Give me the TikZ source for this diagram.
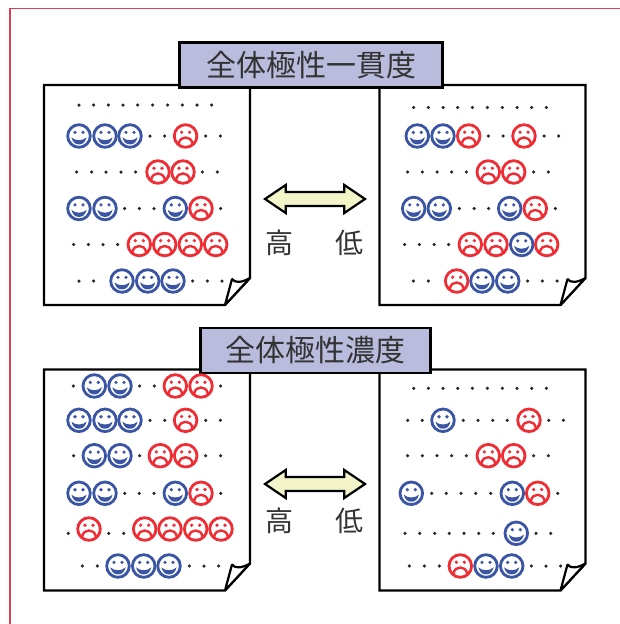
\documentclass[tikz,border=0pt]{standalone}
\usepackage{fontspec}
\setmainfont{Noto Sans CJK JP}
\usetikzlibrary{positioning}
\definecolor{happyblue}{HTML}{3B55A5}
\definecolor{sadred}{HTML}{EE2D34}
\definecolor{framered}{HTML}{D9405A}
\definecolor{titlefill}{HTML}{B9BCDD}
\definecolor{arrowfill}{HTML}{F3F5C8}
\definecolor{inktext}{HTML}{333333}
% one row of marks: prefix, y, list of x/kind
\newcommand{\markrow}[3]{%
  \foreach \mx/\mk [count=\mi] in {#3}
    \node[\mk] (#1-\mi) at (\mx,#2) {};
}
% a sheet with its curled corner: name, top, bottom, left
\newcommand{\sheet}[4]{%
  \draw[sheetline,fill=white] (#4,#2) -- ++(206,0) -- ++(0,#3-#2-27)
    -- ++(-25,27) -- (#4,#3) -- cycle;
  \draw[sheetline,fill=white,line join=bevel] (#4+181,#3) -- ++(7,-26)
    .. controls ++(3,4) and ++(-9,5) .. (#4+206,#3-27) -- cycle;
  \coordinate (#1) at (#4,#2);
}
% double arrow: name, centre x, centre y
\newcommand{\bothways}[3]{%
  \draw[arrowline] (#2-50,#3) -- ++(20.7,-14) -- ++(0,7) -- ++(58.6,0) -- ++(0,-7)
    -- ++(20.7,14) -- ++(-20.7,14) -- ++(0,-7) -- ++(-58.6,0) -- ++(0,7) -- cycle;
  \coordinate (#1) at (#2,#3);
}
\begin{document}
\begin{tikzpicture}[x=1pt,y=-1pt,
    % This is the style settings for the marks
    pt/.style={circle,fill=black!85,inner sep=0pt,minimum size=3.5pt},
    face/.style={circle,inner sep=0pt,minimum size=22.6pt,line width=2.8pt},
    happy/.style={face,draw=happyblue,fill=white,path picture={
      \fill[happyblue] (path picture bounding box.center) ++(-4,-3.6) circle[radius=1.8pt];
      \fill[happyblue] (path picture bounding box.center) ++(4,-3.6) circle[radius=1.8pt];
      \fill[happyblue] (path picture bounding box.center) ++(-7.6,1.4)
        .. controls ++(2.5,2) and ++(-3,0) .. ++(7.6,2.8)
        .. controls ++(3,0) and ++(-2.5,2) .. ++(7.6,-2.8)
        .. controls ++(-1.5,4.8) and ++(4,0) .. ++(-7.6,7)
        .. controls ++(-4,0) and ++(1.5,4.8) .. ++(-7.6,-7) -- cycle;
    }},
    sad/.style={face,draw=sadred,fill=white,path picture={
      \fill[sadred] (path picture bounding box.center) ++(-4,-3.8) circle[radius=1.8pt];
      \fill[sadred] (path picture bounding box.center) ++(4,-3.8) circle[radius=1.8pt];
      \draw[sadred,line width=2.4pt] (path picture bounding box.center) ++(-7,8)
        .. controls ++(1,-5) and ++(-3,0) .. ++(7,-6.5)
        .. controls ++(3,0) and ++(-1,-5) .. ++(7,6.5);
    }},
    sheetline/.style={draw=black,line width=2.2pt,line join=miter},
    arrowline/.style={draw=black,line width=2.2pt,fill=arrowfill},
    titlebox/.style={draw=black,line width=2.2pt,fill=titlefill,text=inktext,font=\fontsize{30}{30}\selectfont,
      inner sep=0pt,minimum height=45pt},
    rate/.style={text=inktext,font=\fontsize{28}{28}\selectfont,inner sep=0pt},
  ]
  \useasboundingbox (0,0) rectangle (620,624);
  % Frame
  \draw[framered,line width=1.2pt] (10,624) -- (10,8.5) -- (620,8.5);

  % Sheets
  \sheet{s1}{85}{305}{44}
  \sheet{s2}{85}{305}{379.5}
  \sheet{s3}{369.5}{590.5}{44}
  \sheet{s4}{369.5}{590.5}{379.5}

  % Titles
  \node[titlebox,minimum width=263pt] (t1) at (311,65) {全体極性一貫度};
  \node[titlebox,minimum width=230pt] (t2) at (315.5,350.3) {全体極性濃度};

  % Arrows and labels
  \bothways{a1}{315}{199}
  \bothways{a2}{315}{484}
  \node[rate] (hi1) at (279.5,243) {高};
  \node[rate] (lo1) at (349.5,243) {低};
  \node[rate] (hi2) at (279.5,521) {高};
  \node[rate] (lo2) at (349.5,521) {低};

  % Upper left sheet
  \markrow{ua}{105}{79/pt,93.7/pt,108.4/pt,123/pt,137.7/pt,152.6/pt,167.6/pt,182.3/pt,197/pt,211.7/pt}
  \markrow{ub}{136}{79/happy,105/happy,130/happy,150/pt,164.7/pt,185.6/sad,205.7/pt,220.4/pt}
  \markrow{uc}{172}{76.7/pt,91.7/pt,106/pt,121/pt,135.7/pt,158/sad,183/sad,202.3/pt,217.3/pt}
  \markrow{ud}{208.5}{79/happy,105/happy,124.7/pt,139.3/pt,154/pt,175.3/happy,201/sad,220.7/pt}
  \markrow{ue}{244.5}{73.7/pt,88.3/pt,103/pt,117.7/pt,139.3/sad,164.7/sad,190.3/sad,215.7/sad}
  \markrow{uf}{281}{79/pt,93.7/pt,122/happy,147.7/happy,173/happy,192.7/pt,207.3/pt,222/pt}

  % Upper right sheet
  \markrow{va}{107.5}{413.7/pt,428.4/pt,443/pt,457.7/pt,472.4/pt,487.4/pt,502.3/pt,517/pt,531.7/pt,546.3/pt}
  \markrow{vb}{136}{417.3/happy,443/happy,468.7/sad,488.3/pt,503/pt,524/sad,544/pt,558.7/pt}
  \markrow{vc}{172}{407.7/pt,422.3/pt,437/pt,451.7/pt,466.3/pt,488.3/sad,513.7/sad,533.7/pt,548.3/pt}
  \markrow{vd}{208.5}{413.7/happy,439.3/happy,459.3/pt,474/pt,488.7/pt,509.7/happy,535.3/sad,555.3/pt}
  \markrow{ve}{244.5}{404.7/pt,419.3/pt,434/pt,448.7/pt,470.3/sad,496/sad,521.7/happy,546.7/sad}
  \markrow{vf}{281}{413.3/pt,428.3/pt,456.7/sad,482/happy,507.7/happy,527.7/pt,542.3/pt,557/pt}

  % Lower left sheet
  \markrow{wa}{386}{73.3/pt,94.3/happy,120/happy,139.7/pt,154.3/pt,175.3/sad,201/sad,220.7/pt}
  \markrow{wb}{420.3}{79/happy,105/happy,130/happy,150/pt,164.7/pt,185.6/sad,205.7/pt,220.4/pt}
  \markrow{wc}{455.7}{73.7/pt,94.3/happy,120/happy,139.7/pt,160.3/sad,185.7/sad,205.7/pt,220.7/pt}
  \markrow{wd}{493.3}{79/happy,105/happy,124.7/pt,139.3/pt,154/pt,175.3/happy,201/sad,220.7/pt}
  \markrow{we}{529}{89/sad,144.7/sad,170/sad,195.7/sad,221/sad}
  \markrow{wf}{533.3}{68.3/pt,108.7/pt,123.7/pt}
  \markrow{wg}{566}{82.3/pt,97.3/pt,118/happy,143.7/happy,169/happy,189.3/pt,204/pt,218.7/pt}

  % Lower right sheet
  \markrow{xa}{388.3}{413.7/pt,428.4/pt,443/pt,457.7/pt,472.4/pt,487.4/pt,502.3/pt,517/pt,531.7/pt,546.3/pt}
  \markrow{xb}{420.3}{407.7/pt,422.3/pt,443/happy,463.3/pt,478/pt,492.7/pt,507.3/pt,529/sad,548.7/pt,563.3/pt}
  \markrow{xc}{455.7}{407.7/pt,422.3/pt,437/pt,451.7/pt,466.3/pt,488.3/sad,513.7/sad,533.7/pt,548.3/pt}
  \markrow{xd}{493.3}{411.3/happy,431.7/pt,446.3/pt,461/pt,475.7/pt,490.7/pt,512.3/happy,537.7/sad,557.7/pt}
  \markrow{xe}{533.3}{405/pt,419.7/pt,434.7/pt,449.3/pt,464/pt,478.7/pt,493.3/pt,516.3/happy,536/pt,550.7/pt}
  \markrow{xf}{566}{409.3/pt,424.3/pt,439.3/pt,460.3/sad,486/happy,511.7/happy,531.3/pt,546/pt,560.7/pt}
\end{tikzpicture}
\end{document}
